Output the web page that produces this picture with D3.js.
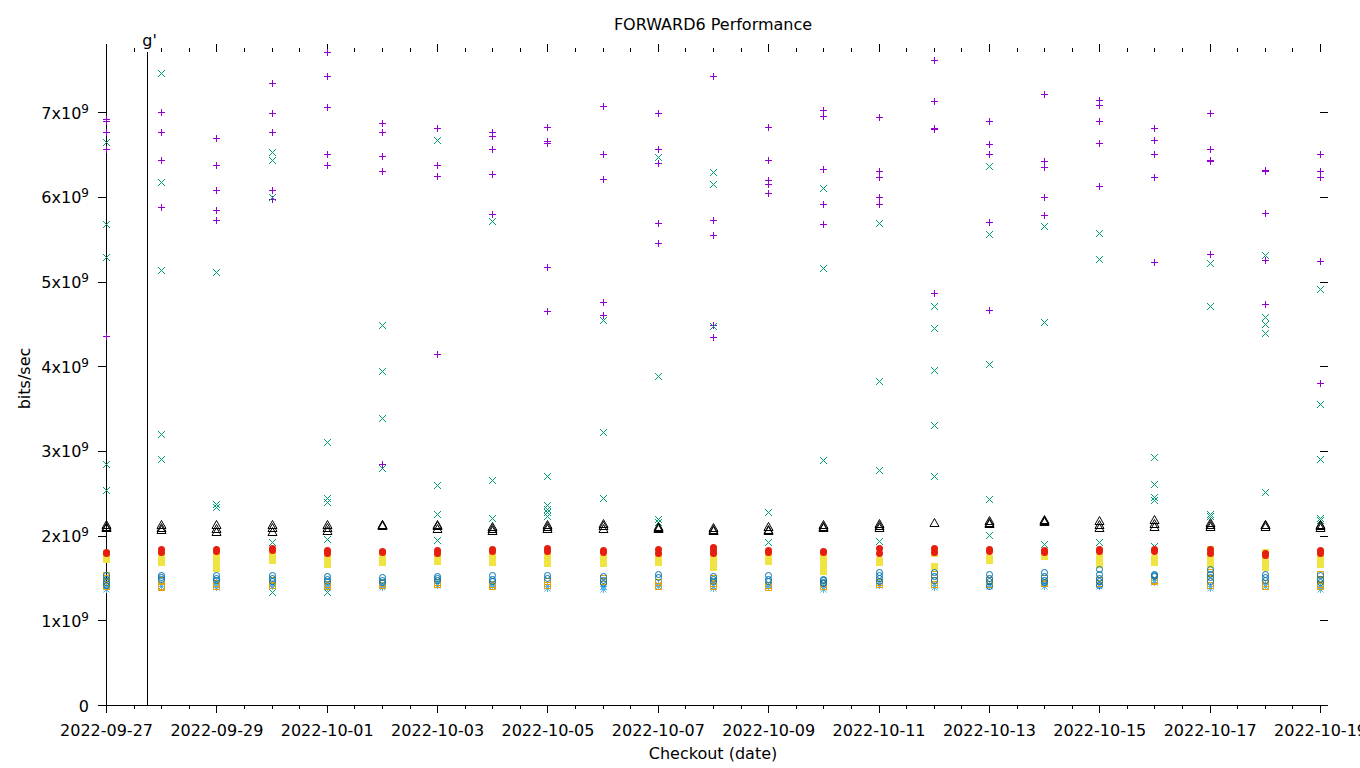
<!DOCTYPE html>
<html>
<head>
<meta charset="utf-8">
<script src="https://cdn.jsdelivr.net/npm/d3@7"></script>
<style>
  body { margin: 0; background: #fff; }
  svg { display: block; font-family: "DejaVu Sans", sans-serif; }
</style>
</head>
<body>
<div id="chart"></div>
<script>
const dates = [
    "2022-09-27", "2022-09-28", "2022-09-29", "2022-09-30", "2022-10-01", "2022-10-02",
    "2022-10-03", "2022-10-04", "2022-10-05", "2022-10-06", "2022-10-07", "2022-10-08",
    "2022-10-09", "2022-10-10", "2022-10-11", "2022-10-12", "2022-10-13", "2022-10-14",
    "2022-10-15", "2022-10-16", "2022-10-17", "2022-10-18", "2022-10-19"
];
const xTickLabels = [
    "2022-09-27", "2022-09-29", "2022-10-01", "2022-10-03", "2022-10-05", "2022-10-07",
    "2022-10-09", "2022-10-11", "2022-10-13", "2022-10-15", "2022-10-17", "2022-10-19"
];
const yTicks = [0, 1, 2, 3, 4, 5, 6, 7]; // x10^9
const yMax = 7.71; // x10^9
const markerTime = "2022-09-27T17:50";
const markerLabel = "g'";

// all values in 10^9 bits/sec, one list per checkout date
const plusValues = [
    [6.92, 6.89, 6.76, 6.56, 4.36],
    [7.00, 6.76, 6.43, 5.88],
    [6.69, 6.37, 6.08, 5.84, 5.73],
    [7.34, 6.99, 6.76, 6.08, 5.97],
    [7.71, 7.43, 7.06, 6.50, 6.38],
    [6.87, 6.76, 6.48, 6.30, 2.85],
    [6.81, 6.38, 6.25, 4.15],
    [6.76, 6.72, 6.56, 6.27, 5.80],
    [6.82, 6.66, 6.64, 5.17, 4.65],
    [7.07, 6.51, 6.21, 4.76, 4.60],
    [6.99, 6.56, 6.40, 5.69, 5.45],
    [7.43, 5.73, 5.55, 4.49, 4.35],
    [6.83, 6.44, 6.20, 6.15, 6.05],
    [7.02, 6.96, 6.33, 5.91, 5.68],
    [6.94, 6.30, 6.23, 6.00, 5.92],
    [7.61, 7.13, 6.81, 6.80, 4.86],
    [6.90, 6.62, 6.51, 5.70, 4.66],
    [7.22, 6.42, 6.35, 6.00, 5.78],
    [7.14, 7.09, 6.90, 6.64, 6.13],
    [6.81, 6.67, 6.50, 6.23, 5.23],
    [6.99, 6.57, 6.43, 6.42, 5.33],
    [6.32, 6.31, 5.81, 5.26, 4.74],
    [6.50, 6.30, 6.23, 5.24, 3.80]
];
const crossValues = [
    [6.65, 5.68, 5.29, 2.85, 2.54],
    [7.46, 6.18, 5.14, 3.20, 2.90],
    [5.11, 2.37, 2.34],
    [6.53, 6.44, 6.00, 1.93, 1.34],
    [3.11, 2.44, 2.40, 1.96, 1.33],
    [4.49, 3.94, 3.39, 2.80],
    [6.67, 2.60, 2.25, 1.95],
    [5.72, 2.66, 2.21],
    [2.70, 2.36, 2.32, 2.28, 2.23],
    [4.54, 3.22, 2.44],
    [6.47, 3.88, 2.20, 2.16],
    [6.29, 6.15, 4.47],
    [2.28, 1.93],
    [6.10, 5.16, 2.89],
    [5.69, 3.83, 2.77, 1.94],
    [4.71, 4.45, 3.96, 3.31, 2.70],
    [6.36, 5.56, 4.03, 2.43, 2.01],
    [5.65, 4.52, 1.90],
    [5.57, 5.27, 1.93],
    [2.93, 2.61, 2.46, 2.42, 1.88],
    [5.22, 4.71, 2.26, 2.23],
    [5.31, 4.58, 4.50, 4.39, 2.52],
    [4.91, 3.55, 2.91, 2.21, 2.19]
];
const starValues = [
    [1.40, 1.37], [1.43, 1.40], [1.45, 1.42, 1.39], [1.44, 1.41], [1.41, 1.39],
    [1.42, 1.39], [1.44, 1.42], [1.42, 1.40], [1.41, 1.38], [1.40, 1.37],
    [1.43, 1.40], [1.41, 1.38], [1.42, 1.40], [1.39, 1.37], [1.44, 1.42],
    [1.42, 1.39], [1.43, 1.40], [1.44, 1.41], [1.43, 1.40], [1.47, 1.45],
    [1.41, 1.38], [1.43, 1.40], [1.40, 1.37]
];
const openSquareValues = [
    [1.54, 1.50, 1.45, 1.41], [1.47, 1.41, 1.39], [1.44, 1.41], [1.48, 1.42], [1.43, 1.40],
    [1.44, 1.42], [1.45, 1.43], [1.43, 1.40], [1.46, 1.42], [1.50, 1.46],
    [1.45, 1.41], [1.50, 1.44, 1.40], [1.42, 1.39], [1.44, 1.41], [1.45, 1.43],
    [1.55, 1.47, 1.43], [1.48, 1.43], [1.50, 1.44], [1.48, 1.44], [1.48, 1.46],
    [1.57, 1.49, 1.42], [1.44, 1.41], [1.55, 1.49, 1.43, 1.41]
];
const filledSquareValues = [
    [1.79, 1.76, 1.72], [1.79, 1.75, 1.69], [1.80, 1.74, 1.68, 1.62], [1.83, 1.76, 1.71],
    [1.78, 1.72, 1.66], [1.79, 1.74, 1.69], [1.80, 1.75, 1.70], [1.79, 1.74, 1.69],
    [1.77, 1.72, 1.68], [1.73, 1.68], [1.73, 1.69], [1.75, 1.70, 1.63],
    [1.79, 1.74, 1.70], [1.75, 1.70, 1.65, 1.58], [1.71, 1.69], [1.82, 1.79, 1.64],
    [1.73, 1.71], [1.79, 1.76], [1.75, 1.71, 1.67], [1.73, 1.69],
    [1.84, 1.78, 1.72, 1.67], [1.81, 1.75, 1.69, 1.63], [1.81, 1.76, 1.71, 1.67]
];
const openCircleValues = [
    [1.53, 1.49, 1.45, 1.42], [1.54, 1.51, 1.49], [1.53, 1.50, 1.47], [1.53, 1.50, 1.46],
    [1.52, 1.49, 1.46], [1.51, 1.48, 1.45], [1.52, 1.50, 1.47], [1.53, 1.49, 1.46],
    [1.53, 1.50], [1.52, 1.48, 1.44], [1.55, 1.51], [1.52, 1.49, 1.46],
    [1.53, 1.49, 1.46], [1.49, 1.47, 1.45, 1.44], [1.57, 1.53, 1.50, 1.46], [1.57, 1.52, 1.48],
    [1.55, 1.50, 1.46, 1.41], [1.57, 1.52, 1.48, 1.45], [1.60, 1.55, 1.50, 1.46, 1.42],
    [1.55, 1.53, 1.52], [1.60, 1.55, 1.51, 1.46], [1.55, 1.51, 1.47], [1.53, 1.49, 1.45]
];
const filledCircleValues = [
    [1.81, 1.79], [1.84, 1.81], [1.84, 1.82], [1.85, 1.83], [1.83, 1.80], [1.82, 1.81],
    [1.83, 1.80], [1.84, 1.82], [1.85, 1.82], [1.83, 1.81], [1.84, 1.80], [1.86, 1.83, 1.80],
    [1.83, 1.81], [1.82, 1.81], [1.85, 1.80], [1.85, 1.81], [1.84, 1.82], [1.83, 1.81],
    [1.84, 1.82], [1.84, 1.82], [1.84, 1.80], [1.80, 1.77], [1.83, 1.80]
];
const triangleValues = [
    [2.12, 2.10, 2.09], [2.12, 2.09, 2.07], [2.12, 2.08, 2.04], [2.13, 2.09, 2.04],
    [2.13, 2.09, 2.06], [2.13, 2.12, 2.11], [2.13, 2.11, 2.08], [2.10, 2.08, 2.06],
    [2.13, 2.10, 2.08], [2.14, 2.11, 2.08], [2.10, 2.09, 2.08], [2.09, 2.07, 2.05],
    [2.10, 2.07, 2.05], [2.12, 2.10, 2.09], [2.14, 2.11, 2.09], [2.15],
    [2.17, 2.15, 2.14], [2.18, 2.17, 2.16], [2.17, 2.12, 2.09], [2.18, 2.14, 2.10],
    [2.15, 2.12, 2.10], [2.13, 2.12, 2.10], [2.13, 2.11, 2.09]
];

// gnuplot default line types, drawn in this order
const series = [
    { values: plusValues, shape: "plus", colour: "#9400d3" },
    { values: crossValues, shape: "cross", colour: "#009e73" },
    { values: starValues, shape: "star", colour: "#56b4e9" },
    { values: openSquareValues, shape: "square", colour: "#e69f00" },
    { values: filledSquareValues, shape: "squareFilled", colour: "#f0e442" },
    { values: openCircleValues, shape: "circle", colour: "#0072b2" },
    { values: filledCircleValues, shape: "circleFilled", colour: "#e51e10" },
    { values: triangleValues, shape: "triangle", colour: "#000000" },
];

const width = 1360;
const height = 768;
const plotLeft = 106, plotRight = 1320, plotTop = 52, plotBottom = 705;

const parseDay = d3.utcParse("%Y-%m-%d");
const parseTime = d3.utcParse("%Y-%m-%dT%H:%M");

const x = d3.scaleUtc()
    .domain([parseDay(dates[0]), parseDay(dates[dates.length - 1])])
    .range([plotLeft, plotRight]);
const y = d3.scaleLinear()
    .domain([0, yMax * 1e9])
    .range([plotBottom, plotTop]);

const svg = d3.create("svg")
    .attr("width", width)
    .attr("height", height);

const majorTicks = xTickLabels.map(parseDay);
const minorTicks = d3.utcHour.every(12).range(x.domain()[0], d3.utcHour.offset(x.domain()[1], 1))
    .filter(t => !majorTicks.some(m => +m === +t));

function cleanAxis(g) {
    g.selectAll("path.domain").remove();
    g.selectAll("line").attr("stroke", "#000").attr("shape-rendering", "crispEdges");
}

// bottom axis
svg.append("g")
    .attr("transform", `translate(0,${plotBottom})`)
    .call(d3.axisBottom(x).tickValues(minorTicks).tickSize(4).tickFormat(""))
    .call(cleanAxis);
svg.append("g")
    .attr("transform", `translate(0,${plotBottom})`)
    .call(d3.axisBottom(x).tickValues(majorTicks).tickSize(8).tickFormat(d3.utcFormat("%Y-%m-%d")))
    .call(cleanAxis)
    .call(g => g.selectAll("text")
        .attr("y", 31).attr("dy", null)
        .attr("fill", "#000")
        .attr("font-size", "16px")
        .attr("font-family", "DejaVu Sans"));

// top mirror ticks
svg.append("g")
    .attr("transform", `translate(0,${plotTop})`)
    .call(d3.axisTop(x).tickValues(minorTicks).tickSize(4).tickFormat(""))
    .call(cleanAxis);
svg.append("g")
    .attr("transform", `translate(0,${plotTop})`)
    .call(d3.axisTop(x).tickValues(majorTicks).tickSize(8).tickFormat(""))
    .call(cleanAxis);

// left axis with 1x10^9 style labels
svg.append("g")
    .attr("transform", `translate(${plotLeft},0)`)
    .call(d3.axisLeft(y).tickValues(yTicks.map(v => v * 1e9)).tickSize(8).tickFormat(""))
    .call(cleanAxis)
    .call(g => g.selectAll(".tick").append("text")
        .attr("x", -17)
        .attr("y", 6)
        .attr("fill", "#000")
        .attr("text-anchor", "end")
        .attr("font-size", "16px")
        .attr("font-family", "DejaVu Sans")
        .each(function(d) {
            const t = d3.select(this);
            const n = d / 1e9;
            if (n === 0) {
                t.text("0");
            } else {
                t.append("tspan").text(`${n}x10`);
                t.append("tspan").attr("dy", -6).attr("font-size", "12px").text("9");
            }
        }));

// right mirror ticks
svg.append("g")
    .attr("transform", `translate(${plotRight},0)`)
    .call(d3.axisRight(y).tickValues(yTicks.map(v => v * 1e9)).tickSize(8).tickFormat(""))
    .call(cleanAxis);

// border: left and bottom only
svg.append("path")
    .attr("d", `M${plotLeft + 0.5},${plotTop} V${plotBottom + 0.5} H${plotRight}`)
    .attr("fill", "none")
    .attr("stroke", "#000");

// event marker line
const mx = Math.round(x(parseTime(markerTime))) + 0.5;
svg.append("line")
    .attr("x1", mx).attr("x2", mx)
    .attr("y1", plotTop).attr("y2", plotBottom)
    .attr("stroke", "#000");
svg.append("text")
    .attr("x", mx + 2)
    .attr("y", 46)
    .attr("text-anchor", "middle")
    .attr("font-size", "16px")
    .attr("fill", "#000")
    .text(markerLabel);

function markerPath(shape) {
    switch (shape) {
        case "plus": return "M-3.5,0H3.5M0,-3.5V3.5";
        case "cross": return "M-3.5,-3.5L3.5,3.5M-3.5,3.5L3.5,-3.5";
        case "star": return "M-3.5,0H3.5M0,-3.5V3.5M-3,-3L3,3M-3,3L3,-3";
        case "square": return "M-3,-3H3V3H-3Z";
        case "squareFilled": return "M-3.5,-3.5H3.5V3.5H-3.5Z";
        case "circle": return d3.arc()({ innerRadius: 0, outerRadius: 3, startAngle: 0, endAngle: 2 * Math.PI });
        case "circleFilled": return d3.arc()({ innerRadius: 0, outerRadius: 3.5, startAngle: 0, endAngle: 2 * Math.PI });
        case "triangle": return "M0,-5L4.5,3H-4.5Z";
    }
}

const filled = new Set(["squareFilled", "circleFilled"]);

series.forEach(s => {
    const points = [];
    s.values.forEach((vals, i) => {
        vals.forEach(v => points.push({ date: parseDay(dates[i]), value: v * 1e9 }));
    });
    svg.append("g")
        .selectAll("path")
        .data(points)
        .join("path")
        .attr("transform", d => `translate(${Math.round(x(d.date)) + 0.5},${Math.round(y(d.value)) + 0.5})`)
        .attr("d", markerPath(s.shape))
        .attr("fill", filled.has(s.shape) ? s.colour : "none")
        .attr("stroke", filled.has(s.shape) ? "none" : s.colour)
        .attr("stroke-width", 1);
});

// titles
svg.append("text")
    .attr("x", (plotLeft + plotRight) / 2)
    .attr("y", 30)
    .attr("text-anchor", "middle")
    .attr("font-size", "16px")
    .text("FORWARD6 Performance");

svg.append("text")
    .attr("x", (plotLeft + plotRight) / 2)
    .attr("y", 759)
    .attr("text-anchor", "middle")
    .attr("font-size", "16px")
    .text("Checkout (date)");

svg.append("text")
    .attr("transform", `translate(30,${(plotTop + plotBottom) / 2}) rotate(-90)`)
    .attr("text-anchor", "middle")
    .attr("font-size", "16px")
    .text("bits/sec");

d3.select("#chart").node().append(svg.node());
</script>
</body>
</html>
